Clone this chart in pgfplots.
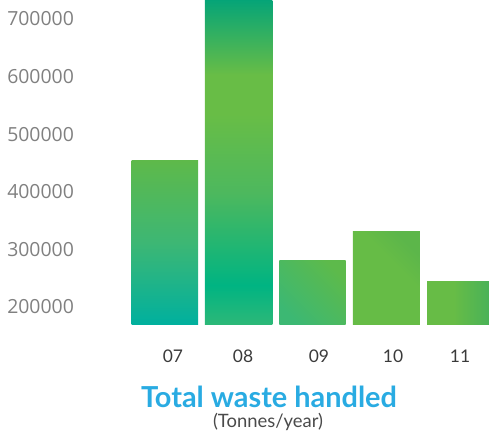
\documentclass[border=0pt]{standalone}
\usepackage{pgfplots}
\pgfplotsset{compat=1.18}
\usepackage{fontspec}
\setmainfont{Lato}
\newfontfamily\ytfont{Open Sans}
\definecolor{titleblue}{HTML}{29ABE2}
\definecolor{ytcol}{HTML}{808080}
\definecolor{xtcol}{HTML}{3A3A3A}
\definecolor{subcol}{HTML}{4A4A4A}
% bar colours
\definecolor{aT}{HTML}{5EB94A}\definecolor{aM}{HTML}{3DB774}\definecolor{aB}{HTML}{00B09E}
\definecolor{bT}{HTML}{00A37A}\definecolor{bU}{HTML}{68BD46}\definecolor{bM}{HTML}{4DB85E}\definecolor{bL}{HTML}{00B482}\definecolor{bB}{HTML}{2DB878}
\definecolor{cT}{HTML}{5DBA4B}\definecolor{cB}{HTML}{3CB873}
\definecolor{dT}{HTML}{5CB64A}\definecolor{dB}{HTML}{66BC46}
\definecolor{eL}{HTML}{67BC46}\definecolor{eR}{HTML}{46B15A}
\pgfdeclareverticalshading{barA}{100bp}{color(0bp)=(aB); color(25bp)=(aB); color(35bp)=(aB!60!aM); color(50bp)=(aM); color(75bp)=(aT); color(100bp)=(aT)}
\pgfdeclareverticalshading{barB}{100bp}{color(0bp)=(bB); color(25bp)=(bB); color(31bp)=(bL); color(45bp)=(bM); color(57bp)=(bU); color(63bp)=(bU); color(75bp)=(bT); color(100bp)=(bT)}
\pgfdeclareverticalshading{barC}{100bp}{color(0bp)=(cB); color(25bp)=(cB); color(75bp)=(cT); color(100bp)=(cT)}
\pgfdeclareverticalshading{barD}{100bp}{color(0bp)=(dB); color(25bp)=(dB); color(60bp)=(dB); color(75bp)=(dT); color(100bp)=(dT)}
\pgfdeclarehorizontalshading{barE}{100bp}{color(0bp)=(eL); color(25bp)=(eL); color(45bp)=(eL); color(75bp)=(eR); color(100bp)=(eR)}
\begin{document}
\begin{tikzpicture}
\useasboundingbox (0,0) rectangle (489bp,441bp);
\begin{axis}[
  at={(128.1bp,116.3bp)}, anchor=south west,
  scale only axis, width=360.9bp, height=324.7bp,
  xmin=-0.5, xmax=4.393,
  % bars start at the axis floor 168700; values are shifted by it
  ymin=0, ymax=564300,
  y filter/.expression={y-168700},
  scaled y ticks=false,
  axis line style={draw=none}, tick style={draw=none},
  ytick={31300,131300,231300,331300,431300,531300},
  yticklabels={200000,300000,400000,500000,600000,700000},
  yticklabel style={anchor=east, inner sep=0pt, xshift=-54bp, font=\fontsize{19.5}{20}\ytfont, text=ytcol},
  xtick={0.108,1.058,2.088,3.092,4.0},
  xticklabels={07,08,09,10,11},
  xticklabel style={anchor=center, inner sep=0pt, yshift=-32bp, font=\fontsize{17.5}{18}\selectfont, text=xtcol},
  /pgf/number format/assume math mode=true,
  clip=true,
]
\addplot[ybar, bar width=66.5bp, bar shift=0pt, draw=none, shade, shading=barA] coordinates {(0,454800)};
\addplot[ybar, bar width=67.5bp, bar shift=0pt, draw=none, shade, shading=barB] coordinates {(1,740000)};
\addplot[ybar, bar width=66bp, bar shift=0pt, draw=none, shade, shading=barC, shading angle=-45] coordinates {(2,280900)};
\addplot[ybar, bar width=67bp, bar shift=0pt, draw=none, shade, shading=barD, shading angle=-45] coordinates {(3,330100)};
\addplot[ybar, bar width=66bp, bar shift=0pt, draw=none, shade, shading=barE] coordinates {(4,244300)};
\end{axis}
\node[anchor=base, inner sep=0pt, text=titleblue, font=\fontsize{29}{30}\bfseries] at (269bp,33.7bp) {Total waste handled};
\node[anchor=base, inner sep=0pt, text=subcol, font=\fontsize{18.5}{19}\selectfont] at (268bp,14bp) {(Tonnes/year)};
\end{tikzpicture}
\end{document}
